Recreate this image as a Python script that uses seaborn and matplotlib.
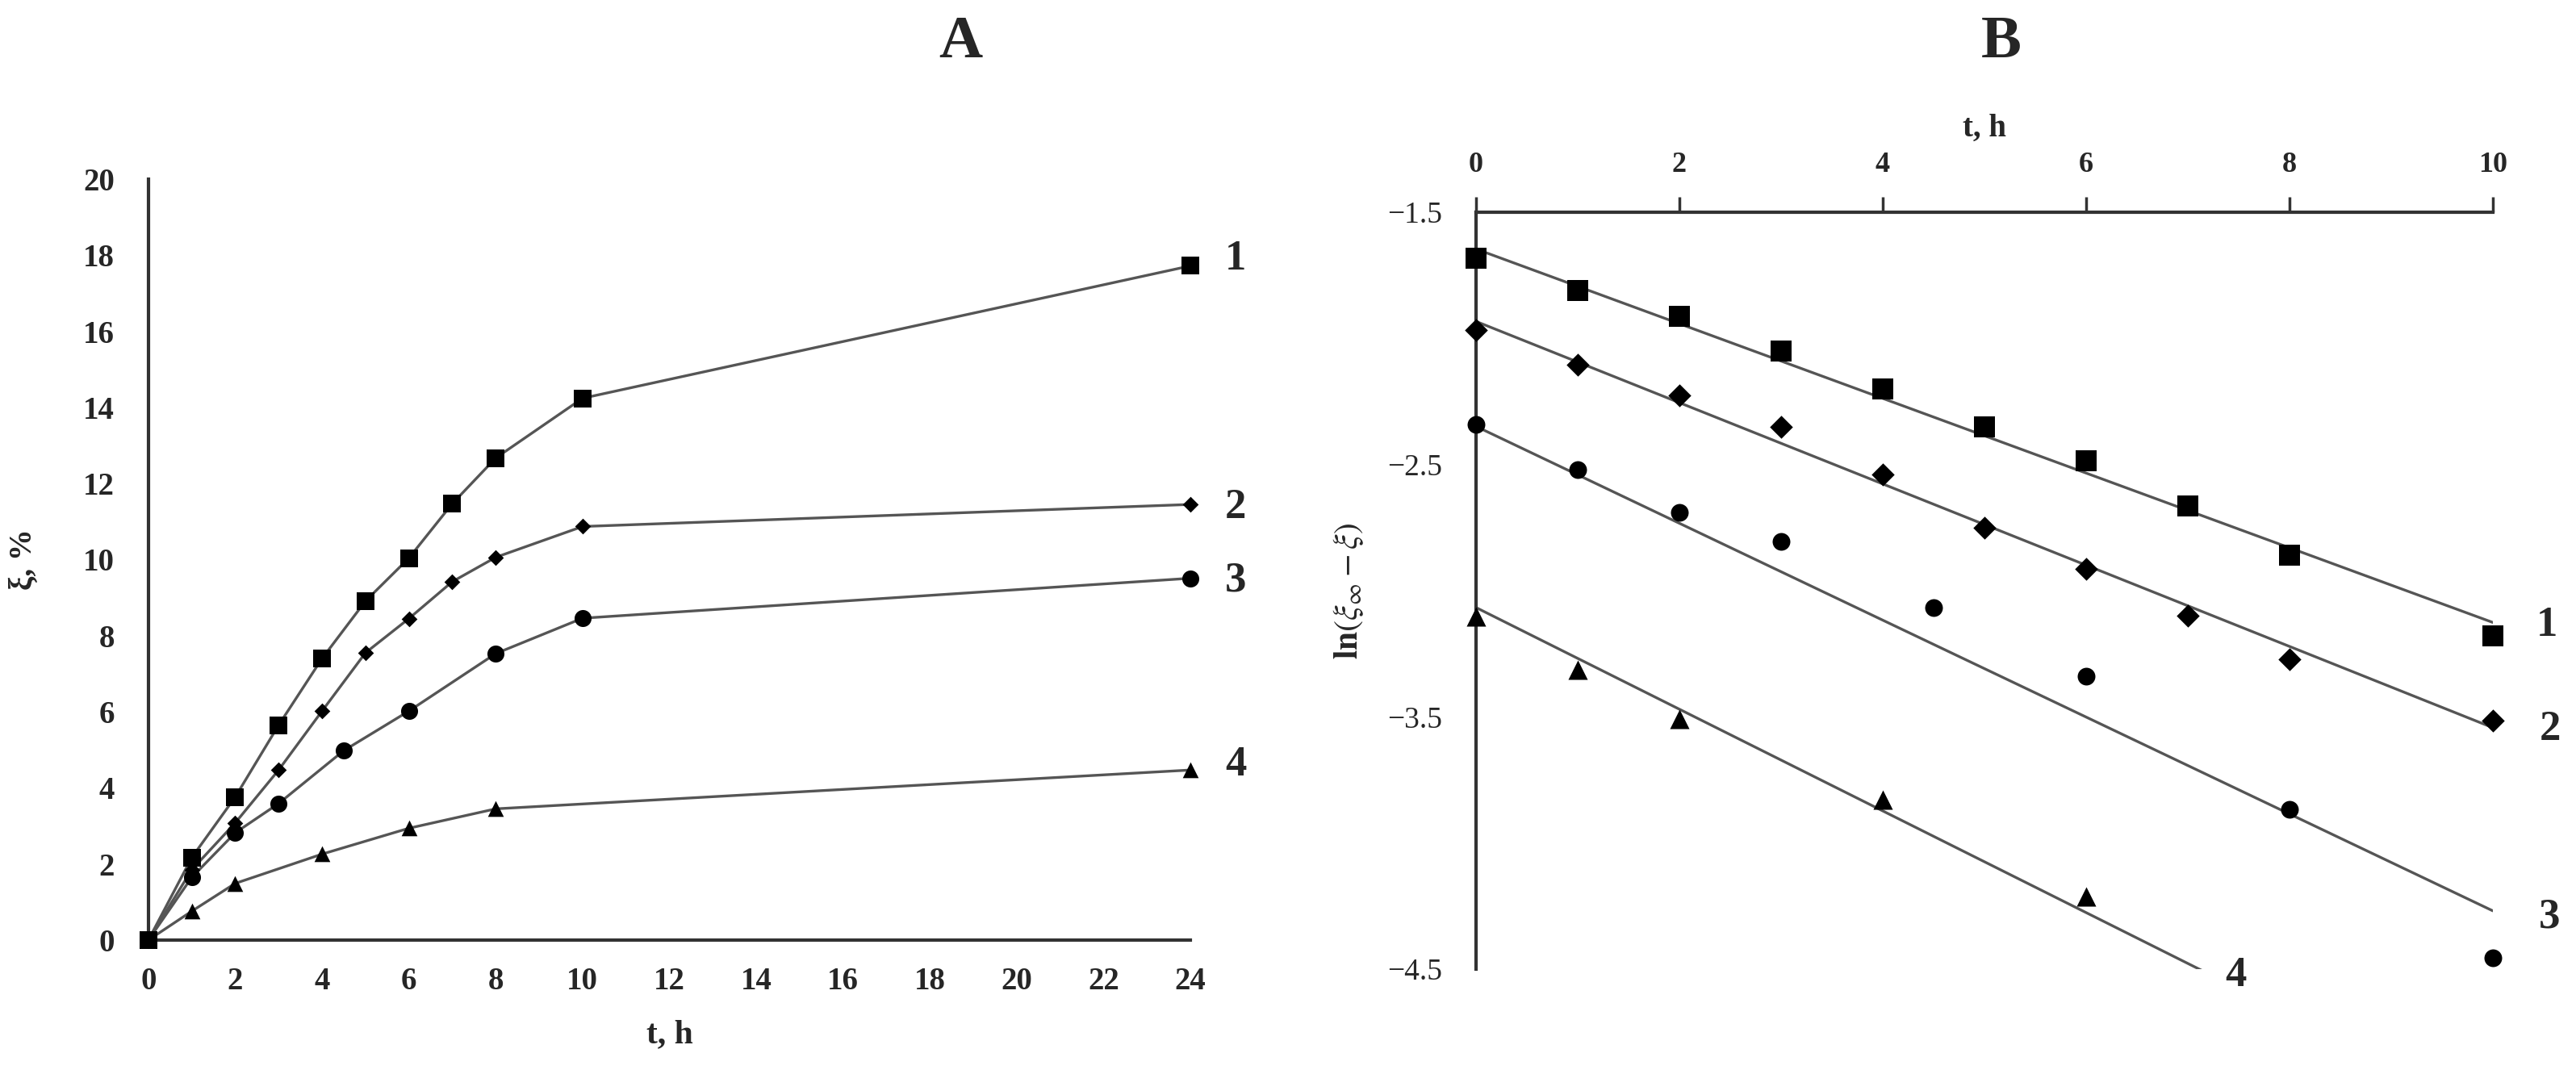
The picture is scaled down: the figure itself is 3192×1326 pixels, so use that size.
import numpy as np
import pandas as pd
import seaborn as sns
import matplotlib.pyplot as plt
from matplotlib.ticker import MultipleLocator, FixedLocator

# ---- data, panel A: conversion vs time ----
tA_1 = [0, 1, 2, 3, 4, 5, 6, 7, 8, 10, 24]
xiA_1 = [0, 2.17, 3.76, 5.65, 7.40, 8.91, 10.04, 11.47, 12.67, 14.24, 17.72]
tA_2 = [0, 1, 2, 3, 4, 5, 6, 7, 8, 10, 24]
xiA_2 = [0, 1.85, 3.08, 4.47, 6.02, 7.55, 8.45, 9.42, 10.06, 10.87, 11.45]
tA_3 = [0, 1, 2, 3, 4.5, 6, 8, 10, 24]
xiA_3 = [0, 1.65, 2.82, 3.59, 4.98, 6.02, 7.53, 8.46, 9.51]
tA_4 = [0, 1, 2, 4, 6, 8, 24]
xiA_4 = [0, 0.76, 1.49, 2.26, 2.94, 3.45, 4.47]

# ---- data, panel B: ln(xi_inf - xi) vs time ----
tB_1 = [0, 1, 2, 3, 4, 5, 6, 7, 8, 10]
lnB_1 = [-1.682, -1.811, -1.912, -2.051, -2.199, -2.351, -2.486, -2.663, -2.859, -3.179]
tB_2 = [0, 1, 2, 3, 4, 5, 6, 7, 8, 10]
lnB_2 = [-1.966, -2.105, -2.225, -2.352, -2.540, -2.752, -2.915, -3.098, -3.272, -3.514]
tB_3 = [0, 1, 2, 3, 4.5, 6, 8, 10]
lnB_3 = [-2.342, -2.521, -2.689, -2.806, -3.067, -3.340, -3.868, -4.455]
tB_4 = [0, 1, 2, 4, 6]
lnB_4 = [-3.104, -3.312, -3.509, -3.828, -4.213]

# fitted straight lines
fit_intercept = [-1.646, -1.933, -2.349, -3.067]
fit_slope = [-0.148, -0.161, -0.192, -0.2015]
fit_tend = [10, 10, 10, 7.2]

series_labels = ['1', '2', '3', '4']
labelA_pos = [(24.8, 17.9), (24.8, 11.36), (24.8, 9.45), (24.8, 4.6)]
labelB_pos = [(10.53, -3.137), (10.56, -3.55), (10.56, -4.294), (7.47, -4.526)]

sns.set_style("white")
plt.rcParams['font.family'] = ['Liberation Serif', 'DejaVu Serif']
plt.rcParams['mathtext.fontset'] = 'stix'

line_col = '#555555'
axis_col = '#333333'

fig = plt.figure(figsize=(31.92, 13.26), dpi=100)
axA = fig.add_axes([0.0576, 0.1214, 0.4045, 0.7112])
axB = fig.add_axes([0.573, 0.0943, 0.3947, 0.7074])

# ---- panel A ----
A_sets = [(tA_1, xiA_1, 's', 260), (tA_2, xiA_2, 'D', 100),
          (tA_3, xiA_3, 'o', 230), (tA_4, xiA_4, '^', 200)]
for (t, xi, mk, sz) in A_sets:
    df = pd.DataFrame({'t': t, 'xi': xi})
    sns.lineplot(data=df, x='t', y='xi', ax=axA, color=line_col, lw=2.4,
                 sort=False, zorder=2)
    sns.scatterplot(data=df, x='t', y='xi', ax=axA, marker=mk, s=sz,
                    color='black', edgecolor='black', linewidth=0,
                    zorder=3, clip_on=False)

axA.set_xlim(0, 24)
axA.set_ylim(0, 20)
axA.xaxis.set_major_locator(MultipleLocator(2))
axA.yaxis.set_major_locator(MultipleLocator(2))
for s in ['top', 'right']:
    axA.spines[s].set_visible(False)
for s in ['left', 'bottom']:
    axA.spines[s].set_color(axis_col)
    axA.spines[s].set_linewidth(3)
axA.tick_params(axis='x', direction='out', length=14, width=2.5,
                color=axis_col, labelsize=28, pad=10)
axA.tick_params(axis='y', direction='out', length=14, width=2.5,
                color=axis_col, labelsize=28, pad=16)
for lab in axA.get_xticklabels() + axA.get_yticklabels():
    lab.set_fontweight('bold')
axA.set_xlabel('t, h', fontsize=30, fontweight='bold', labelpad=20)
axA.set_ylabel('ξ, %', fontsize=28, fontweight='bold', labelpad=40)
for lab, (x, y) in zip(series_labels, labelA_pos):
    axA.text(x, y, lab, fontsize=38, fontweight='bold', ha='left',
             va='center', clip_on=False)

# ---- panel B ----
B_sets = [(tB_1, lnB_1, 's', 330), (tB_2, lnB_2, 'D', 210),
          (tB_3, lnB_3, 'o', 250), (tB_4, lnB_4, '^', 300)]
for i, (t, ln, mk, sz) in enumerate(B_sets):
    tf = np.array([0, fit_tend[i]])
    fit_df = pd.DataFrame({'t': tf, 'y': fit_intercept[i] + fit_slope[i] * tf})
    sns.lineplot(data=fit_df, x='t', y='y', ax=axB, color=line_col, lw=2.4,
                 zorder=2)
    df = pd.DataFrame({'t': t, 'y': ln})
    sns.scatterplot(data=df, x='t', y='y', ax=axB, marker=mk, s=sz,
                    color='black', edgecolor='black', linewidth=0,
                    zorder=3, clip_on=False)

axB.set_xlim(0, 10)
axB.set_ylim(-4.5, -1.5)
axB.xaxis.tick_top()
axB.xaxis.set_label_position('top')
axB.xaxis.set_major_locator(MultipleLocator(2))
axB.yaxis.set_major_locator(FixedLocator([-4.5, -3.5, -2.5, -1.5]))
axB.yaxis.set_minor_locator(FixedLocator([-4, -3, -2]))
axB.set_yticklabels(['−4.5', '−3.5', '−2.5', '−1.5'])
for s in ['bottom', 'right']:
    axB.spines[s].set_visible(False)
for s in ['left', 'top']:
    axB.spines[s].set_color(axis_col)
    axB.spines[s].set_linewidth(3)
axB.tick_params(axis='x', which='major', direction='out', length=14,
                width=2.5, color=axis_col, labelsize=26, pad=16)
axB.tick_params(axis='y', which='both', direction='out', length=14,
                width=2.5, color=axis_col, labelsize=27, pad=16)
for lab in axB.get_xticklabels():
    lab.set_fontweight('bold')
axB.set_xlabel('t, h', fontsize=28, fontweight='bold', labelpad=14)
axB.set_ylabel(r'$\mathbf{ln}(\xi_{\infty} - \xi)$', fontsize=30, labelpad=20)
for lab, (x, y) in zip(series_labels, labelB_pos):
    axB.text(x, y, lab, fontsize=38, fontweight='bold', ha='center',
             va='center', clip_on=False)

fig.text(0.373, 0.96, 'A', fontsize=54, fontweight='bold', ha='center', va='center')
fig.text(0.777, 0.96, 'B', fontsize=54, fontweight='bold', ha='center', va='center')

fig.savefig('out.png', dpi=100, facecolor='white')
